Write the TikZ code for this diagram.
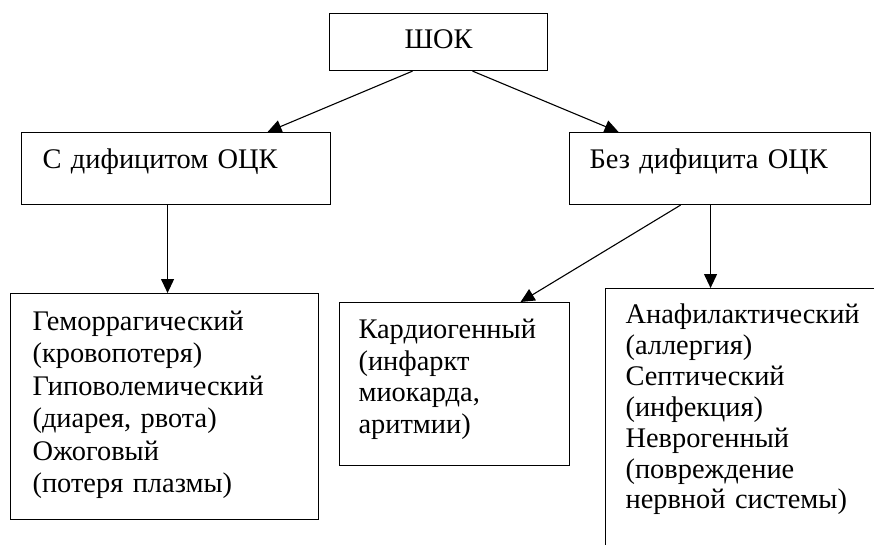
\documentclass[tikz,border=0pt]{standalone}
\usepackage{fontspec}
\setmainfont{Liberation Serif}
\usetikzlibrary{arrows.meta}
\begin{document}
\begin{tikzpicture}[x=1pt,y=-1pt,
  box/.style={draw, line width=1.1pt, anchor=north west, inner ysep=0pt, align=left},
  txt/.style={font=\fontsize{28.4}{#1}\selectfont},
  arr/.style={line width=1.1pt, -{Triangle[length=14pt,width=13pt]}}]
\useasboundingbox (0,0) rectangle (874,544);
\clip (0,0) rectangle (874,544);

\node[box, txt=31.5, inner xsep=0pt, minimum width=218pt, align=center,
      text height=35pt, text depth=22pt] (shock) at (329,13) {ШОК};

\node[box, txt=31.5, inner xsep=21pt, text width=267pt,
      text height=36pt, text depth=36pt] (left2) at (21,132) {С дифицитом ОЦК};
\node[box, txt=31.5, inner xsep=20pt, text width=261pt,
      text height=36pt, text depth=36pt] (right2) at (569,132) {Без дифицита ОЦК};

\node[box, txt=32.4, inner xsep=22pt, text width=264pt,
      text height=37pt, text depth=189pt] (b1) at (10,293)
  {Геморрагический\\(кровопотеря)\\Гиповолемический\\(диарея, рвота)\\Ожоговый\\(потеря плазмы)};
\node[box, txt=31.7, inner xsep=19pt, text width=192pt,
      text height=36pt, text depth=127pt] (b2) at (339,302)
  {Кардиогенный\\(инфаркт\\миокарда,\\аритмии)};
\node[box, txt=30.9, inner xsep=20pt, text width=255pt,
      text height=35pt, text depth=270pt] (b3) at (605,288)
  {Анафилактический\\(аллергия)\\Септический\\(инфекция)\\Неврогенный\\(повреждение\\нервной системы)};

\draw[arr] ([xshift=-26pt]shock.south) -- ([xshift=91.5pt]left2.north);
\draw[arr] ([xshift=34pt]shock.south) -- ([xshift=-101.5pt]right2.north);
\draw[arr] ([xshift=-8.5pt]left2.south) coordinate (a1) -- (a1 |- b1.north);
\draw[arr] ([xshift=-9.5pt]right2.south) coordinate (a2) -- (a2 |- b3.north);
\draw[arr] ([xshift=-39.5pt]right2.south) -- ([xshift=66pt]b2.north);
\end{tikzpicture}
\end{document}
